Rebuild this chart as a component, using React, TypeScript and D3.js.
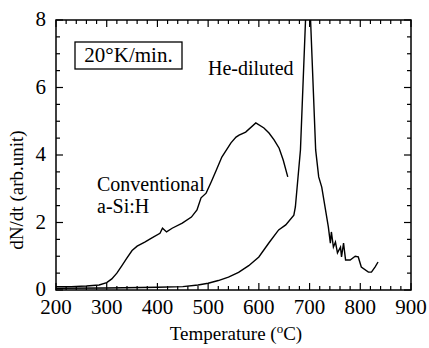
import React, { useEffect, useRef } from 'react';
import * as d3 from 'd3';

// Conventional a-Si:H: temperature (°C) and dN/dt
const convTemp = [200, 230, 260, 285, 300, 310, 320, 330, 340, 350, 360, 375, 390, 405, 410, 418, 429, 449, 467, 478, 486, 496, 506, 516, 527, 545, 555, 561, 574, 594, 610, 620, 630, 640, 648, 657];
const convVal = [0.1, 0.1, 0.12, 0.15, 0.22, 0.33, 0.5, 0.72, 0.95, 1.17, 1.3, 1.42, 1.55, 1.68, 1.83, 1.72, 1.83, 1.98, 2.16, 2.37, 2.73, 2.87, 3.2, 3.55, 3.94, 4.36, 4.53, 4.59, 4.68, 4.95, 4.8, 4.65, 4.45, 4.2, 3.85, 3.35];

// He-diluted
const heTemp = [200, 300, 400, 450, 480, 500, 520, 540, 560, 580, 600, 620, 639, 653, 669, 672, 682, 697, 712, 718, 724, 737, 741, 743, 747, 751, 755, 761, 763, 767, 771, 780, 790, 796, 802, 816, 822, 829, 835];
const heVal = [0.05, 0.06, 0.08, 0.1, 0.15, 0.2, 0.28, 0.38, 0.52, 0.72, 0.98, 1.4, 1.78, 1.93, 2.22, 2.46, 4.15, 9.9, 4.15, 3.35, 3.05, 1.87, 1.39, 1.72, 1.27, 1.42, 1.1, 1.27, 0.98, 1.39, 0.89, 0.89, 1.0, 0.98, 0.68, 0.53, 0.53, 0.68, 0.83];

const xMajor = [200, 300, 400, 500, 600, 700, 800, 900];
const yMajor = [0, 2, 4, 6, 8];

const App = () => {
  const ref = useRef<SVGSVGElement>(null);

  useEffect(() => {
    document.body.style.margin = '0';
    const svg = d3.select(ref.current);
    svg.selectAll('*').remove();

    const x = d3.scaleLinear().domain([200, 900]).range([56, 411]);
    const y = d3.scaleLinear().domain([0, 8]).range([290, 20]);

    svg.append('clipPath').attr('id', 'plot')
      .append('rect').attr('x', 56).attr('y', 20).attr('width', 355).attr('height', 270);

    // frame
    svg.append('rect')
      .attr('x', 56).attr('y', 20).attr('width', 355).attr('height', 270)
      .attr('fill', 'none').attr('stroke', '#000').attr('stroke-width', 1.5);

    // ticks, inward on all four sides
    const ticks = svg.append('g').attr('stroke', '#000').attr('stroke-width', 1.2);
    d3.range(200, 901, 20).forEach((t) => {
      const len = t % 100 === 0 ? 7 : 4;
      ticks.append('line').attr('x1', x(t)).attr('x2', x(t)).attr('y1', 290).attr('y2', 290 - len);
      ticks.append('line').attr('x1', x(t)).attr('x2', x(t)).attr('y1', 20).attr('y2', 20 + len);
    });
    d3.range(0, 8.01, 0.5).forEach((v) => {
      const len = v % 2 === 0 ? 7 : 4;
      ticks.append('line').attr('x1', 56).attr('x2', 56 + len).attr('y1', y(v)).attr('y2', y(v));
      ticks.append('line').attr('x1', 411).attr('x2', 411 - len).attr('y1', y(v)).attr('y2', y(v));
    });

    svg.append('g').selectAll('text').data(xMajor).enter().append('text')
      .attr('x', (d) => x(d)).attr('y', 314)
      .attr('text-anchor', 'middle').attr('font-size', 21)
      .text((d) => d);

    svg.append('g').selectAll('text').data(yMajor).enter().append('text')
      .attr('x', 46).attr('y', (d) => y(d)).attr('dy', '0.3em')
      .attr('text-anchor', 'end').attr('font-size', 21)
      .text((d) => d);

    // axis titles
    const xt = svg.append('text').attr('x', 236).attr('y', 340)
      .attr('text-anchor', 'middle').attr('font-size', 19);
    xt.append('tspan').text('Temperature (');
    xt.append('tspan').attr('font-size', 13).attr('dy', -7).text('o');
    xt.append('tspan').attr('dy', 7).text('C)');

    svg.append('text')
      .attr('transform', 'translate(23,190) rotate(-90)')
      .attr('text-anchor', 'middle').attr('font-size', 19)
      .text('dN/dt (arb.unit)');

    const line = d3.line<[number, number]>().x((d) => x(d[0])).y((d) => y(d[1]));
    const curves = svg.append('g').attr('clip-path', 'url(#plot)');
    curves.append('path')
      .datum(convTemp.map((t, i) => [t, convVal[i]] as [number, number]))
      .attr('fill', 'none').attr('stroke', '#000').attr('stroke-width', 1.4)
      .attr('d', line);
    curves.append('path')
      .datum(heTemp.map((t, i) => [t, heVal[i]] as [number, number]))
      .attr('fill', 'none').attr('stroke', '#000').attr('stroke-width', 1.4)
      .attr('d', line);

    // annotations
    svg.append('rect').attr('x', 75).attr('y', 42).attr('width', 107).attr('height', 27)
      .attr('fill', 'none').attr('stroke', '#000').attr('stroke-width', 1.3);
    svg.append('text').attr('x', 128.5).attr('y', 62).attr('text-anchor', 'middle')
      .attr('font-size', 21).text('20°K/min.');

    svg.append('text').attr('x', 208).attr('y', 75)
      .attr('font-size', 20).text('He-diluted');
    svg.append('text').attr('x', 97).attr('y', 191)
      .attr('font-size', 20).text('Conventional');
    svg.append('text').attr('x', 97).attr('y', 213)
      .attr('font-size', 20).text('a-Si:H');
  }, []);

  return (
    <svg ref={ref} width={429} height={348}
      style={{ display: 'block', background: '#fff', fontFamily: "'Liberation Serif', 'Times New Roman', serif" }} />
  );
};

export default App;
